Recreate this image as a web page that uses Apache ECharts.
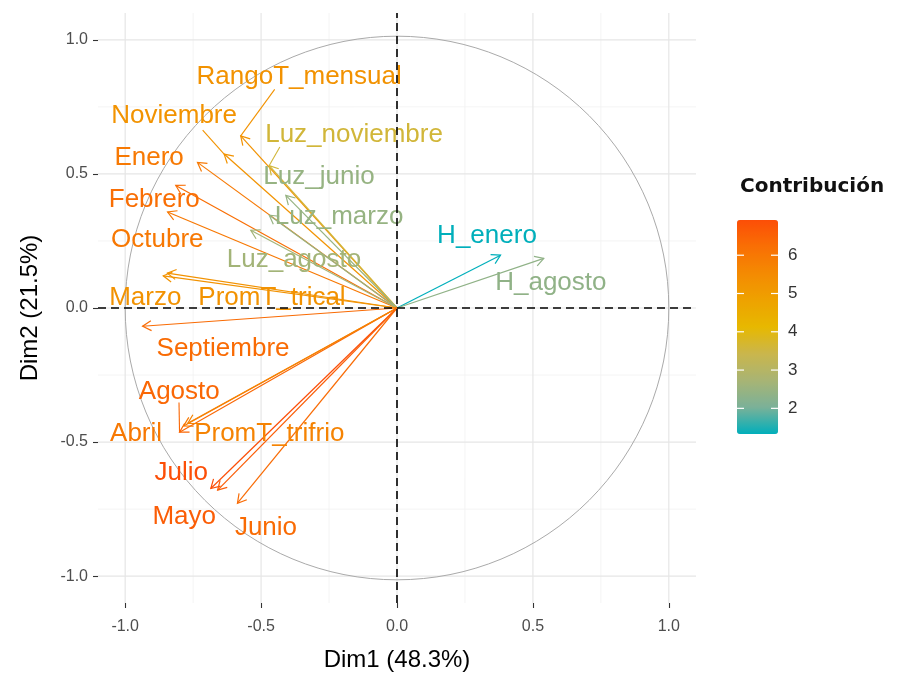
<!DOCTYPE html>
<html><head><meta charset="utf-8">
<script src="https://cdn.jsdelivr.net/npm/echarts@6/dist/echarts.min.js"></script>
<style>html,body{margin:0;padding:0;background:#fff}#c{width:899px;height:677px}</style>
</head><body><div id="c"></div><script>
// ---- data ----
const variables = ['RangoT_mensual','Noviembre','Luz_noviembre','Enero','Luz_junio','Febrero','Luz_marzo','Octubre','Luz_agosto','Marzo','PromT_trical','Septiembre','Agosto','Abril','PromT_trifrio','Julio','Mayo','Junio','H_enero','H_agosto'];
const dim1 = [-0.575,-0.636,-0.470,-0.734,-0.409,-0.814,-0.470,-0.844,-0.538,-0.860,-0.845,-0.936,-0.800,-0.785,-0.770,-0.685,-0.660,-0.587,0.381,0.540];
const dim2 = [0.642,0.574,0.531,0.543,0.420,0.457,0.346,0.358,0.290,0.120,0.130,-0.068,-0.463,-0.440,-0.430,-0.673,-0.679,-0.728,0.197,0.185];
const contrib = [5.30,5.25,3.60,5.95,2.45,6.25,2.45,6.00,2.65,5.30,5.30,6.30,6.40,6.00,5.70,6.92,6.60,6.30,1.33,2.35];
// label placement (repelled text positions, data units)
const labelX = [-0.360,-0.820,-0.158,-0.912,-0.287,-0.893,-0.213,-0.882,-0.379,-0.926,-0.460,-0.640,-0.801,-0.960,-0.470,-0.794,-0.783,-0.482,0.331,0.566];
const labelY = [0.863,0.715,0.644,0.559,0.489,0.404,0.341,0.256,0.178,0.037,0.037,-0.152,-0.311,-0.470,-0.470,-0.615,-0.778,-0.819,0.270,0.093];
// repel segment start points (data units), null = no segment
const segStartX = [-0.450,-0.715,-0.431,null,null,null,null,null,null,null,null,null,-0.802,null,null,null,null,null,null,null];
const segStartY = [0.815,0.663,0.600,null,null,null,null,null,null,null,null,null,-0.352,null,null,null,null,null,null,null];
const majorBreaks = [-1,-0.5,0,0.5,1];
const minorBreaks = [-0.75,-0.25,0.25,0.75];
const legendBreaks = [2,3,4,5,6];
const contribMin = 1.33, contribMax = 6.92;
// #00AFBB -> #E7B800 -> #FC4E07 (Lab-interpolated stops)
const gradientColors = ['#00AFBB','#7BB198','#A8B474','#CAB64C','#E7B800','#EEA200','#F48A02','#F96F04','#FC4E07'];

const xMin=-1.1,xMax=1.1,yMin=-1.1,yMax=1.1;
const LABEL_FONT = '26px "Liberation Sans", Arial, sans-serif';

const rows = variables.map((v,i)=>[dim1[i],dim2[i],contrib[i],labelX[i],labelY[i]]);

const chart = echarts.init(document.getElementById('c'), null, {renderer:'canvas'});

const grid = {left:98, right:203, top:13, bottom:70};
const barLeft=737, barTop=220, barW=41, barH=214;

function renderGrid(params, api){
  const ch=[];
  const add=(v,col,w)=>{
    let a=api.coord([v,yMin]), b=api.coord([v,yMax]);
    ch.push({type:'line',shape:{x1:a[0],y1:a[1],x2:b[0],y2:b[1]},style:{stroke:col,lineWidth:w}});
    a=api.coord([xMin,v]); b=api.coord([xMax,v]);
    ch.push({type:'line',shape:{x1:a[0],y1:a[1],x2:b[0],y2:b[1]},style:{stroke:col,lineWidth:w}});
  };
  minorBreaks.forEach(v=>add(v,'#F1F1F1',0.8));
  majorBreaks.forEach(v=>add(v,'#E6E6E6',1.2));
  const o=api.coord([0,0]);
  const r=api.size([1,0])[0];
  ch.push({type:'circle',shape:{cx:o[0],cy:o[1],r:r},style:{fill:'none',stroke:'#AAAAAA',lineWidth:1}});
  return {type:'group',children:ch};
}

function renderArrow(params, api){
  const o=api.coord([0,0]);
  const p=api.coord([api.value(0),api.value(1)]);
  const col=api.visual('color');
  const ang=Math.atan2(p[1]-o[1],p[0]-o[0]);
  const hl=10, ha=Math.PI/6;
  const h1=[p[0]-hl*Math.cos(ang-ha),p[1]-hl*Math.sin(ang-ha)];
  const h2=[p[0]-hl*Math.cos(ang+ha),p[1]-hl*Math.sin(ang+ha)];
  return {type:'group',children:[
    {type:'line',shape:{x1:o[0],y1:o[1],x2:p[0],y2:p[1]},style:{stroke:col,lineWidth:1.2}},
    {type:'polyline',shape:{points:[h1,p,h2]},style:{stroke:col,fill:'none',lineWidth:1.2}}
  ]};
}

function renderLabel(params, api){
  const i=params.dataIndex;
  const p=api.coord([api.value(0),api.value(1)]);
  const c=api.coord([api.value(3),api.value(4)]);
  const col=api.visual('color');
  const ch=[];
  if(segStartX[i]!==null){
    const s=api.coord([segStartX[i],segStartY[i]]);
    ch.push({type:'line',shape:{x1:s[0],y1:s[1],x2:p[0],y2:p[1]},style:{stroke:col,lineWidth:1.1}});
  }
  ch.push({type:'text',style:{text:variables[i],x:c[0],y:c[1],align:'center',verticalAlign:'middle',font:LABEL_FONT,fill:col}});
  return {type:'group',children:ch};
}

function renderZero(params, api){
  const a=api.coord([xMin,0]), b=api.coord([xMax,0]);
  const c=api.coord([0,yMin]), d=api.coord([0,yMax]);
  const st={stroke:'#000',lineWidth:1.6,lineDash:[8,5]};
  return {type:'group',children:[
    {type:'line',shape:{x1:a[0],y1:a[1],x2:b[0],y2:b[1]},style:st},
    {type:'line',shape:{x1:c[0],y1:c[1],x2:d[0],y2:d[1]},style:st}
  ]};
}

const legendY = v => barTop + (contribMax - v)/(contribMax-contribMin)*barH;
const graphics = [
  {type:'text',x:740,y:187,style:{text:'Contribución',font:'bold 20px "DejaVu Sans", sans-serif',fill:'#111',verticalAlign:'middle'}}
];
legendBreaks.forEach(v=>{
  const y=legendY(v);
  graphics.push({type:'line',z:100,shape:{x1:barLeft,y1:y,x2:barLeft+7,y2:y},style:{stroke:'#fff',lineWidth:1.2}});
  graphics.push({type:'line',z:100,shape:{x1:barLeft+barW-7,y1:y,x2:barLeft+barW,y2:y},style:{stroke:'#fff',lineWidth:1.2}});
  graphics.push({type:'text',z:100,x:barLeft+barW+10,y:y,style:{text:String(v),font:'17px "Liberation Sans", Arial, sans-serif',fill:'#333',verticalAlign:'middle'}});
});

const axisCommon = {
  type:'value',
  axisLine:{show:false,onZero:false},
  splitLine:{show:false},
  axisTick:{show:true,length:5,customValues:majorBreaks,lineStyle:{color:'#333',width:1.1}},
  axisLabel:{customValues:majorBreaks,formatter:v=>v.toFixed(1),color:'#4D4D4D',fontSize:16,fontFamily:'"Liberation Sans", Arial, sans-serif'},
  nameLocation:'middle',
  nameTextStyle:{color:'#000',fontSize:24,fontFamily:'"Liberation Sans", Arial, sans-serif'}
};

chart.setOption({
  animation:false,
  backgroundColor:'#fff',
  grid:grid,
  xAxis:Object.assign({},axisCommon,{min:xMin,max:xMax,name:'Dim1 (48.3%)',nameGap:45,
    axisLabel:Object.assign({},axisCommon.axisLabel,{margin:16})}),
  yAxis:Object.assign({},axisCommon,{min:yMin,max:yMax,name:'Dim2 (21.5%)',nameGap:56,
    axisLabel:Object.assign({},axisCommon.axisLabel,{margin:10})}),
  visualMap:{type:'continuous',dimension:2,seriesIndex:[1,2],min:contribMin,max:contribMax,
    inRange:{color:gradientColors},calculable:false,left:barLeft,top:barTop,itemWidth:barW,itemHeight:barH,
    padding:0,text:null,showLabel:false,orient:'vertical'},
  graphic:graphics,
  series:[
    {type:'custom',renderItem:renderGrid,data:[[0,0]],silent:true,z:1},
    {type:'custom',renderItem:renderArrow,data:rows,encode:{x:0,y:1},silent:true,z:2},
    {type:'custom',renderItem:renderLabel,data:rows,encode:{x:0,y:1},silent:true,z:3},
    {type:'custom',renderItem:renderZero,data:[[0,0]],silent:true,z:4}
  ]
});
</script></body></html>
